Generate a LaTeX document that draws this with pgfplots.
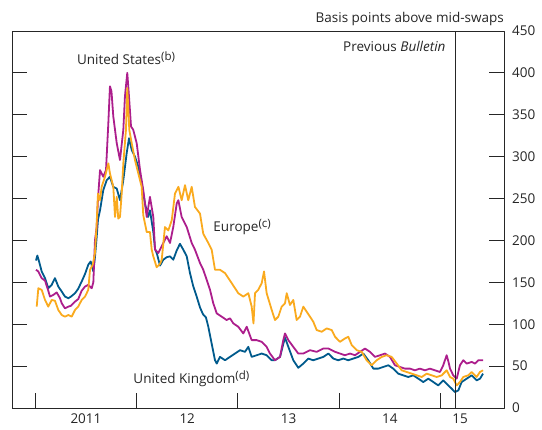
\documentclass[border=0pt]{standalone}
\usepackage{fontspec}
\setmainfont{Open Sans}
\usepackage{pgfplots}
\pgfplotsset{compat=1.18}

\definecolor{ukblue}{RGB}{0,90,140}
\definecolor{usmag}{RGB}{172,30,140}
\definecolor{euorange}{RGB}{250,170,30}
\colorlet{txt}{black!85}
\newcommand{\note}[1]{\raisebox{0.55ex}{\fontsize{11.5bp}{13bp}\selectfont(#1)}}

\begin{document}
\begin{tikzpicture}
\useasboundingbox (-12bp,-22bp) rectangle (530bp,408bp);
\begin{axis}[
    name=ax,
    scale only axis,
    width=492bp, height=377bp,
    xmin=2010.77, xmax=2015.627,
    ymin=0, ymax=450,
    clip=false,
    font=\fontsize{13.5bp}{16bp}\selectfont,
    axis line style={txt, line width=0.8bp},
    every tick/.style={txt, line width=0.8bp},
    tick align=inside,
    major tick length=15bp,
    ytick={0,50,...,450},
    ytick pos=both,
    yticklabel pos=right,
    yticklabel style={anchor=west, inner sep=0pt, xshift=8bp, text=txt},
    xtick={2011,2012,2013,2014,2015},
    xticklabels={},
    xtick pos=bottom,
    extra x ticks={2011.5,2012.5,2013.5,2014.5,2015.193},
    extra x tick labels={2011,12,13,14,15},
    extra x tick style={major tick length=0pt, xticklabel style={text=txt, yshift=-2bp}},
    /pgf/number format/assume math mode=true,
    /pgf/number format/1000 sep={},
    line join=round,
]
% United Kingdom
\addplot[ukblue, line width=1.8bp, mark=none] coordinates {
(2011.007,176) (2011.020,182) (2011.037,175) (2011.063,163) (2011.096,155)
(2011.128,143) (2011.162,147) (2011.194,155) (2011.227,145) (2011.261,139)
(2011.293,133) (2011.326,131) (2011.352,133) (2011.392,137) (2011.422,142)
(2011.458,151) (2011.491,160) (2011.523,171) (2011.547,175) (2011.573,163)
(2011.589,180) (2011.606,204) (2011.619,225) (2011.639,236) (2011.671,260)
(2011.705,272) (2011.737,276) (2011.770,264) (2011.804,262) (2011.836,248)
(2011.869,272) (2011.902,304) (2011.925,322) (2011.952,308) (2011.984,300)
(2012.017,288) (2012.050,268) (2012.083,244) (2012.113,228) (2012.132,236)
(2012.165,210) (2012.182,190) (2012.201,184) (2012.231,170) (2012.264,177)
(2012.297,180) (2012.330,181) (2012.362,177) (2012.396,188) (2012.428,196)
(2012.461,189) (2012.495,181) (2012.527,161) (2012.560,145) (2012.593,133)
(2012.626,120) (2012.655,112) (2012.685,108) (2012.708,97) (2012.741,77)
(2012.774,57) (2012.791,53) (2012.823,61) (2012.873,57) (2012.922,61)
(2012.971,65) (2013.021,69) (2013.070,67) (2013.103,73) (2013.136,61)
(2013.186,63) (2013.235,65) (2013.284,63) (2013.334,57) (2013.366,57)
(2013.416,61) (2013.445,75) (2013.465,84) (2013.498,73) (2013.547,57)
(2013.596,48) (2013.646,53) (2013.695,59) (2013.744,57) (2013.794,59)
(2013.843,61) (2013.893,65) (2013.942,59) (2013.991,57) (2014.041,59)
(2014.090,57) (2014.139,59) (2014.189,61) (2014.238,65) (2014.287,57)
(2014.337,47) (2014.386,47) (2014.435,49) (2014.485,51) (2014.534,47)
(2014.583,41) (2014.633,39) (2014.682,37) (2014.732,39) (2014.781,35)
(2014.830,31) (2014.880,35) (2014.929,31) (2014.978,27) (2015.028,33)
(2015.077,27) (2015.111,23) (2015.143,19) (2015.176,21) (2015.209,31)
(2015.259,35) (2015.308,39) (2015.357,33) (2015.390,35) (2015.420,41)
};
% United States
\addplot[usmag, line width=1.8bp, mark=none] coordinates {
(2011.007,165) (2011.030,163) (2011.063,155) (2011.096,152) (2011.128,140)
(2011.145,133) (2011.178,135) (2011.211,138) (2011.244,131) (2011.261,125)
(2011.293,119) (2011.326,121) (2011.352,122) (2011.392,127) (2011.424,130)
(2011.458,140) (2011.491,145) (2011.523,147) (2011.557,143) (2011.573,150)
(2011.589,200) (2011.606,216) (2011.619,250) (2011.639,284) (2011.671,276)
(2011.698,284) (2011.721,340) (2011.737,384) (2011.752,378) (2011.770,348)
(2011.804,316) (2011.836,296) (2011.869,332) (2011.885,372) (2011.908,400)
(2011.925,372) (2011.945,336) (2011.967,332) (2012.001,316) (2012.034,284)
(2012.066,260) (2012.100,228) (2012.132,252) (2012.165,228) (2012.182,189)
(2012.214,185) (2012.264,197) (2012.297,205) (2012.330,197) (2012.362,216)
(2012.396,244) (2012.412,248) (2012.445,228) (2012.495,216) (2012.544,197)
(2012.576,189) (2012.626,173) (2012.658,165) (2012.692,153) (2012.725,141)
(2012.757,125) (2012.791,113) (2012.840,109) (2012.889,105) (2012.922,107)
(2012.955,101) (2013.004,97) (2013.053,89) (2013.087,97) (2013.136,81)
(2013.186,81) (2013.235,79) (2013.284,73) (2013.317,65) (2013.366,57)
(2013.416,61) (2013.448,81) (2013.465,89) (2013.498,81) (2013.547,73)
(2013.596,65) (2013.646,65) (2013.712,69) (2013.778,67) (2013.843,71)
(2013.893,71) (2013.959,67) (2014.008,65) (2014.057,63) (2014.107,65)
(2014.156,63) (2014.205,67) (2014.255,71) (2014.304,67) (2014.353,61)
(2014.403,63) (2014.452,65) (2014.501,61) (2014.551,51) (2014.600,49)
(2014.649,47) (2014.699,47) (2014.748,45) (2014.797,47) (2014.847,45)
(2014.896,47) (2014.945,45) (2014.995,43) (2015.024,50) (2015.044,57)
(2015.061,63) (2015.079,55) (2015.094,47) (2015.126,39) (2015.160,35)
(2015.192,51) (2015.225,57) (2015.259,53) (2015.308,55) (2015.340,53)
(2015.373,57) (2015.420,57)
};
% Europe
\addplot[euorange, line width=1.8bp, mark=none] coordinates {
(2011.014,121) (2011.030,143) (2011.063,141) (2011.096,129) (2011.128,121)
(2011.162,129) (2011.194,128) (2011.227,117) (2011.261,111) (2011.293,109)
(2011.326,111) (2011.359,109) (2011.392,117) (2011.424,121) (2011.458,129)
(2011.491,133) (2011.523,141) (2011.540,165) (2011.567,171) (2011.589,185)
(2011.604,216) (2011.619,256) (2011.639,248) (2011.655,264) (2011.688,276)
(2011.721,292) (2011.737,280) (2011.770,264) (2011.787,228) (2011.804,252)
(2011.819,226) (2011.836,228) (2011.853,256) (2011.869,292) (2011.895,332)
(2011.908,382) (2011.928,332) (2011.952,316) (2011.984,296) (2012.017,280)
(2012.050,264) (2012.066,230) (2012.100,210) (2012.132,210) (2012.149,189)
(2012.165,181) (2012.198,168) (2012.231,172) (2012.248,177) (2012.280,216)
(2012.313,212) (2012.347,224) (2012.379,256) (2012.413,264) (2012.445,248)
(2012.478,266) (2012.510,248) (2012.544,264) (2012.576,240) (2012.626,232)
(2012.658,208) (2012.708,197) (2012.741,189) (2012.774,165) (2012.823,165)
(2012.873,161) (2012.939,149) (2013.004,137) (2013.053,133) (2013.103,137)
(2013.136,121) (2013.154,101) (2013.169,137) (2013.201,141) (2013.235,149)
(2013.258,163) (2013.284,137) (2013.334,117) (2013.366,105) (2013.399,109)
(2013.432,121) (2013.465,125) (2013.482,137) (2013.514,123) (2013.547,129)
(2013.580,105) (2013.613,109) (2013.646,121) (2013.679,115) (2013.712,109)
(2013.744,103) (2013.778,93) (2013.827,91) (2013.877,95) (2013.926,93)
(2013.959,85) (2014.008,79) (2014.057,83) (2014.090,85) (2014.124,75)
(2014.173,69) (2014.222,67) (2014.271,57) (2014.321,51) (2014.370,57)
(2014.420,61) (2014.469,63) (2014.518,61) (2014.568,53) (2014.617,45)
(2014.666,43) (2014.716,41) (2014.765,39) (2014.814,37) (2014.864,41)
(2014.913,39) (2014.962,37) (2015.012,39) (2015.061,45) (2015.094,37)
(2015.126,35) (2015.160,27) (2015.192,31) (2015.225,37) (2015.274,39)
(2015.308,43) (2015.357,37) (2015.390,43) (2015.420,45)
};
\draw[txt, line width=0.8bp] (axis cs:2015.15,0) -- (axis cs:2015.15,450);
\node[anchor=base east, text=txt] at (axis cs:2015.084,425) {Previous \textit{Bulletin}};
\node[anchor=base west, text=txt, inner sep=0pt] at (axis cs:2011.41,410) {United States\note{b}};
\node[anchor=base west, text=txt, inner sep=0pt] at (axis cs:2012.757,211) {Europe\note{c}};
\node[anchor=base west, text=txt, inner sep=0pt] at (axis cs:2011.967,29.5) {United Kingdom\note{d}};
\node[anchor=base east, text=txt, inner sep=0pt] at ([yshift=8bp]rel axis cs:1,1) {Basis points above mid-swaps};
\end{axis}
\end{tikzpicture}
\end{document}
